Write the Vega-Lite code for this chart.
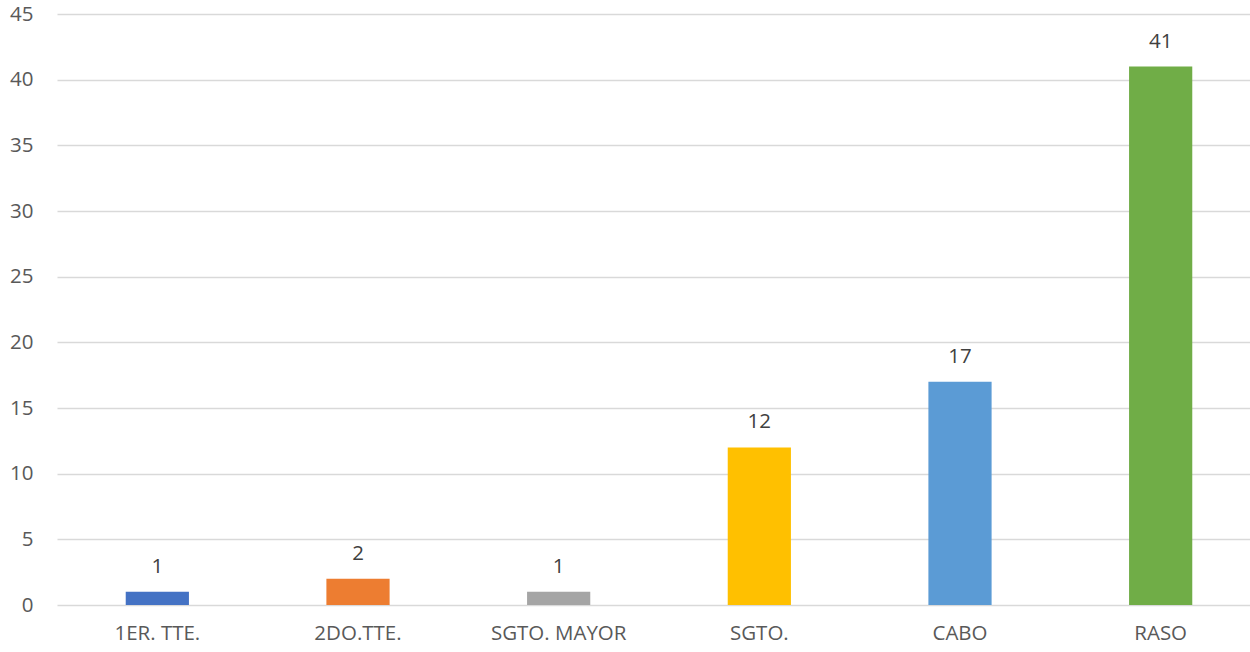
{
  "$schema": "https://vega.github.io/schema/vega-lite/v6.json",
  "autosize": {"type": "none"},
  "width": 1204,
  "height": 591,
  "padding": {"left": 57, "top": 14, "right": 0, "bottom": 47},
  "background": "white",
  "config": {"view": {"stroke": null}, "font": "Open Sans"},
  "data": {
    "values": [
      {"rango": "1ER. TTE.", "n": 1, "color": "#4472C4"},
      {"rango": "2DO.TTE.", "n": 2, "color": "#ED7D31"},
      {"rango": "SGTO. MAYOR", "n": 1, "color": "#A5A5A5"},
      {"rango": "SGTO.", "n": 12, "color": "#FFC000"},
      {"rango": "CABO", "n": 17, "color": "#5B9BD5"},
      {"rango": "RASO", "n": 41, "color": "#70AD47"}
    ]
  },
  "encoding": {
    "x": {
      "field": "rango", "type": "nominal", "sort": null,
      "scale": {"paddingInner": 0.685, "paddingOuter": 0.3425},
      "axis": {"title": null, "labelAngle": 0, "domain": false, "ticks": false,
               "labelFontSize": 20.5, "labelColor": "#595959", "labelPadding": 18, "labelFont": "Open Sans"}
    },
    "y": {
      "field": "n", "type": "quantitative",
      "scale": {"domain": [0, 45], "nice": false},
      "axis": {"title": null, "values": [0,5,10,15,20,25,30,35,40,45], "domain": false, "ticks": false,
               "labelFontSize": 20.5, "labelColor": "#595959", "labelPadding": 24,
               "gridColor": "#d9d9d9", "gridWidth": 1.5, "labelFont": "Open Sans"}
    }
  },
  "layer": [
    {"mark": {"type": "bar"}, "encoding": {"color": {"field": "color", "type": "nominal", "scale": null, "legend": null}}},
    {"mark": {"type": "text", "dy": -25, "fontSize": 20.5, "color": "#404040", "font": "Open Sans"},
     "encoding": {"text": {"field": "n", "type": "quantitative"}}}
  ]
}
